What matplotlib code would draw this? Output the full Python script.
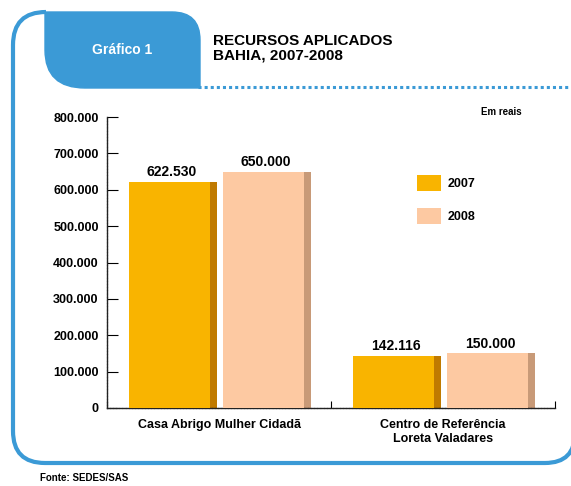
import matplotlib.pyplot as plt
from matplotlib.path import Path
from matplotlib.patches import PathPatch, Patch
import numpy as np

plt.rcParams['font.family'] = ['Liberation Sans Narrow', 'Liberation Sans', 'DejaVu Sans']

categories = ['Casa Abrigo Mulher Cidadã', 'Centro de Referência\nLoreta Valadares']
years = ['2007', '2008']
values_2007 = [622530, 142116]
values_2008 = [650000, 150000]
labels_2007 = ['622.530', '142.116']
labels_2008 = ['650.000', '150.000']
yticks = [0, 100000, 200000, 300000, 400000, 500000, 600000, 700000, 800000]
ytick_labels = ['0', '100.000', '200.000', '300.000', '400.000', '500.000',
                '600.000', '700.000', '800.000']

W, H = 571, 486
fig = plt.figure(figsize=(W / 100, H / 100), dpi=100)
fig.patch.set_facecolor('white')

blue = '#3b9ad6'
c2007 = '#f9b400'
c2007_dark = '#c07a00'
c2008 = '#fdc9a2'
c2008_dark = '#c89a78'


def fx(x):
    return x / W


def fy(y):
    return 1 - y / H


def pix_path(pts, codes):
    return Path([(fx(x), fy(y)) for x, y in pts], codes)


# outer frame (left + bottom, rounded)
frame_pts = [(575, 410), (575, 433), (575, 463), (545, 463), (45, 463),
             (13, 463), (13, 431), (13, 45), (13, 12), (46, 12)]
frame_codes = [Path.MOVETO, Path.LINETO, Path.CURVE3, Path.CURVE3, Path.LINETO,
               Path.CURVE3, Path.CURVE3, Path.LINETO, Path.CURVE3, Path.CURVE3]
fig.patches.append(PathPatch(pix_path(frame_pts, frame_codes), transform=fig.transFigure,
                             fill=False, edgecolor=blue, lw=3))

# tab
tab_pts = [(45, 12), (172, 12), (200, 12), (200, 40), (200, 88), (85, 88),
           (45, 88), (45, 50), (45, 12)]
tab_codes = [Path.MOVETO, Path.LINETO, Path.CURVE3, Path.CURVE3, Path.LINETO,
             Path.LINETO, Path.CURVE3, Path.CURVE3, Path.CLOSEPOLY]
fig.patches.append(PathPatch(pix_path(tab_pts, tab_codes), transform=fig.transFigure,
                             facecolor=blue, edgecolor=blue, lw=1))
fig.lines.append(plt.Line2D([fx(198), 1.0], [fy(87), fy(87)], transform=fig.transFigure,
                            color=blue, lw=2.2, linestyle=(0, (1, 1))))

fig.text(fx(122), fy(50), 'Gráfico 1', color='white', fontsize=10, fontweight='bold',
         ha='center', va='center')
fig.text(fx(213), fy(48), 'RECURSOS APLICADOS\nBAHIA, 2007-2008', color='black',
         fontsize=11, fontweight='bold', ha='left', va='center', linespacing=1.05)
fig.text(fx(522), fy(112), 'Em reais', fontsize=7, fontweight='bold', ha='right', va='center')
fig.text(fx(40), fy(478), 'Fonte: SEDES/SAS', fontsize=7, fontweight='bold',
         ha='left', va='center')

# main axes
ax = fig.add_axes([fx(107), fy(408), (555 - 107) / W, (408 - 117) / H])
ax.set_xlim(0, 2)
ax.set_ylim(0, 800000)

centers = np.array([0.5, 1.5])
off = 0.21
w = 0.38
sh = 0.022

for vals, lbls, col, dark, sgn in [(values_2007, labels_2007, c2007, c2007_dark, -1),
                                   (values_2008, labels_2008, c2008, c2008_dark, 1)]:
    xs = centers + sgn * off
    ax.bar(xs + sh / 2, vals, width=w, color=dark, zorder=2)
    ax.bar(xs - sh / 2, vals, width=w - sh, color=col, zorder=3)
    for x, v, t in zip(xs, vals, lbls):
        ax.text(x, v + 8000, t, ha='center', va='bottom', fontsize=10, fontweight='bold')

for s in ['top', 'right']:
    ax.spines[s].set_visible(False)
for s in ['left', 'bottom']:
    ax.spines[s].set_color('#222222')
    ax.spines[s].set_linewidth(1)
    ax.spines[s].set_linestyle((0, (1.5, 0.8)))

ax.set_yticks(yticks)
ax.set_yticklabels(ytick_labels, fontsize=9, fontweight='bold')
ax.tick_params(axis='y', direction='in', length=8, pad=6, width=0.8)

ax.set_xticks([0, 1, 2])
ax.set_xticklabels([])
ax.tick_params(axis='x', which='major', direction='in', length=5, width=0.8)
ax.set_xticks(centers, minor=True)
ax.set_xticklabels(categories, minor=True, fontsize=9, fontweight='bold')
ax.tick_params(axis='x', which='minor', length=0, pad=8)

handles = [Patch(facecolor=c2007, edgecolor='none'), Patch(facecolor=c2008, edgecolor='none')]
fig.legend(handles, years, loc='upper left', bbox_to_anchor=(fx(406), fy(164)),
           frameon=False, handlelength=1.9, handleheight=1.6,
           labelspacing=1.3, handletextpad=0.5,
           prop={'weight': 'bold', 'size': 9})

fig.savefig('out.png', dpi=100)
